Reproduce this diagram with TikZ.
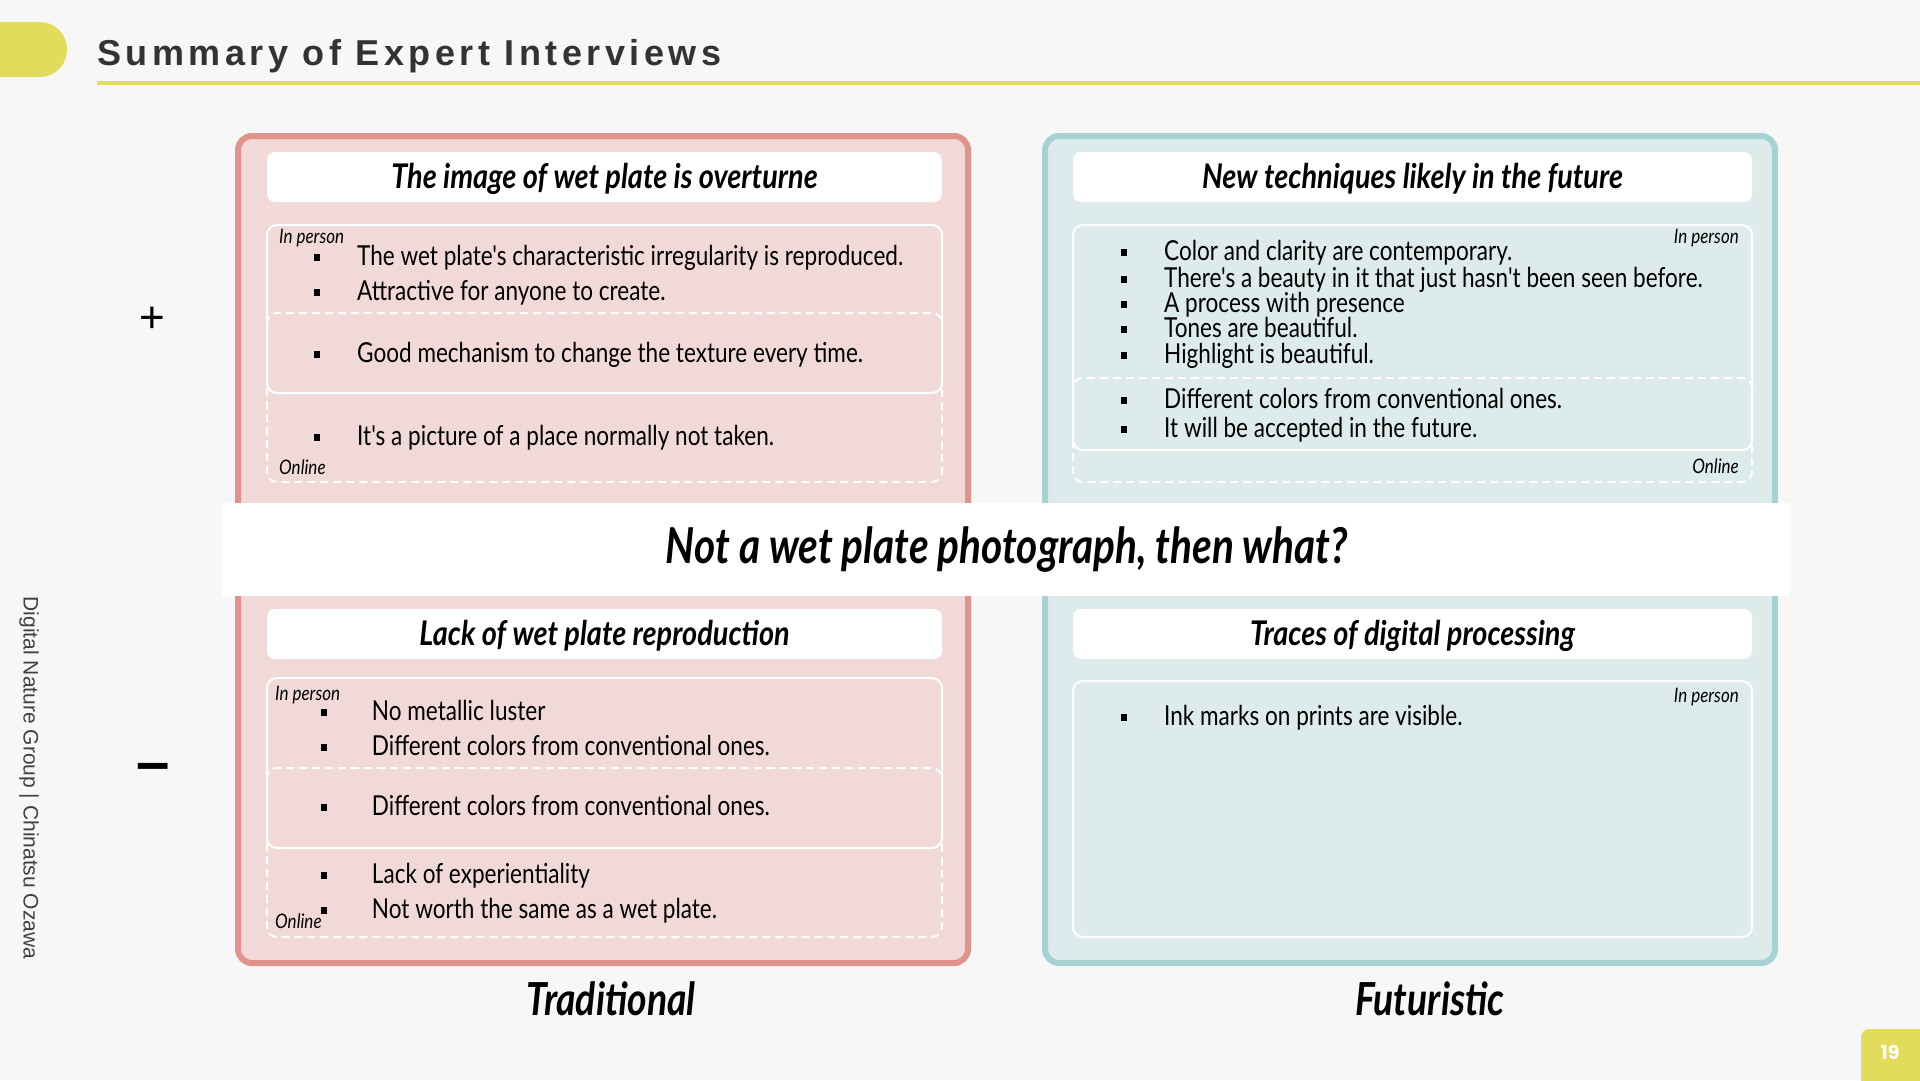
\documentclass[tikz,border=0pt]{standalone}
\usepackage{fontspec}
\setmainfont{Lato}
\usepackage{xcolor}
\usepackage{tikz}
\usetikzlibrary{positioning}

\newfontfamily\condfont[FakeStretch=0.82]{Lato}
\newfontfamily\headcond[FakeStretch=0.85]{Lato}
\newfontfamily\headfont[LetterSpace=12.5]{Liberation Sans}
\newfontfamily\plainsans{Liberation Sans}
\newfontfamily\numfont{Poppins}

\definecolor{bgcol}{HTML}{F7F7F7}
\definecolor{accent}{HTML}{E2DB5B}
\definecolor{titlecol}{HTML}{333333}
\definecolor{tradline}{HTML}{E0938B}
\definecolor{tradfill}{HTML}{F0D9D6}
\definecolor{futline}{HTML}{A7D1D2}
\definecolor{futfill}{HTML}{DDEBEB}

\tikzset{
  panelbox/.style={line width=6pt, rounded corners=14pt},
  headbox/.style={fill=white, rounded corners=8pt, inner sep=0pt, text height=26pt, text depth=3pt},
  inbox/.style={draw=white, line width=2pt, rounded corners=10pt},
  onbox/.style={draw=white, line width=2pt, dash pattern=on 8pt off 5pt, rounded corners=10pt},
  headtxt/.style={font=\headcond\bfseries\itshape\fontsize{34}{38}\selectfont},
  itemtxt/.style={anchor=base west, inner sep=0pt, font=\condfont\fontsize{27.5}{30}\selectfont},
  tagtxt/.style={inner sep=0pt, font=\headcond\itshape\fontsize{20}{22}\selectfont},
  axistxt/.style={font=\condfont\bfseries\itshape\fontsize{45.5}{50}\selectfont},
}
\newcommand\itm[1][43pt]{\makebox[#1][l]{\rule[4pt]{6pt}{7pt}}}

\begin{document}
\begin{tikzpicture}[x=1pt, y=-1pt]

% Page
\useasboundingbox (0,0) rectangle (1920,1080);
\fill[bgcol] (0,0) rectangle (1920,1080);

% Title bar
\fill[accent, rounded corners=27pt] (-40,22) rectangle (67,77);
\node[anchor=base west, inner sep=0pt, text=titlecol,
      font=\headfont\bfseries\fontsize{36}{40}\selectfont] (title) at (97,65) {Summary of Expert Interviews};
\draw[accent, line width=4pt] (97,82.5) -- (1920,82.5);

% Credit and page number
\node[rotate=-90, text=black!75, font=\plainsans\fontsize{21}{24}\selectfont] (credit) at (29,778)
    {Digital Nature Group | Chinatsu Ozawa};
\fill[accent, rounded corners=8pt] (1861,1029) rectangle (1950,1110);
\node[text=white, font=\numfont\bfseries\fontsize{19}{22}\selectfont] (pageno) at (1890,1052) {19};

% Panels
\draw[panelbox, draw=tradline, fill=tradfill] (238,136) rectangle (968,963);
\draw[panelbox, draw=futline, fill=futfill] (1045,136) rectangle (1775,963);

% Headers
\node[headbox, minimum width=675pt, minimum height=50pt, headtxt] (hdTradPos) at (604.5,177)
    {The image of wet plate is overturne};
\node[headbox, minimum width=679pt, minimum height=50pt, headtxt] (hdFutPos) at (1412.5,177)
    {New techniques likely in the future};
\node[headbox, minimum width=675pt, minimum height=50pt, headtxt] (hdTradNeg) at (604.5,634)
    {Lack of wet plate reproduction};
\node[headbox, minimum width=679pt, minimum height=50pt, headtxt] (hdFutNeg) at (1412.5,634)
    {Traces of digital processing};

% In person / online boxes
\draw[inbox] (267,225) rectangle (942,393);
\draw[onbox] (267,313) rectangle (942,482);
\draw[inbox] (267,678) rectangle (942,848);
\draw[onbox] (267,768) rectangle (942,937);
\draw[inbox] (1073,225) rectangle (1752,450);
\draw[onbox] (1073,378) rectangle (1752,482);
\draw[inbox] (1073,681) rectangle (1752,937);

% Traditional, positive
\node[tagtxt, anchor=west] (tpIn) at (279,238) {In person};
\node[itemtxt] (tp1) at (314,265) {\itm The wet plate's characteristic irregularity is reproduced.};
\node[itemtxt] (tp2) at (314,300) {\itm Attractive for anyone to create.};
\node[itemtxt] (tp3) at (314,362) {\itm Good mechanism to change the texture every time.};
\node[itemtxt] (tp4) at (314,445) {\itm It's a picture of a place normally not taken.};
\node[tagtxt, anchor=west] (tpOn) at (279,467) {Online};

% Futuristic, positive
\node[tagtxt, anchor=east] (fpIn) at (1739,238) {In person};
\node[itemtxt] (fp1) at (1121,260) {\itm Color and clarity are contemporary.};
\node[itemtxt] (fp2) at (1121,287) {\itm There's a beauty in it that just hasn't been seen before.};
\node[itemtxt] (fp3) at (1121,312) {\itm A process with presence};
\node[itemtxt] (fp4) at (1121,337) {\itm Tones are beautiful.};
\node[itemtxt] (fp5) at (1121,363) {\itm Highlight is beautiful.};
\node[itemtxt] (fp6) at (1121,408) {\itm Different colors from conventional ones.};
\node[itemtxt] (fp7) at (1121,437) {\itm It will be accepted in the future.};
\node[tagtxt, anchor=east] (fpOn) at (1739,466) {Online};

% Traditional, negative
\node[tagtxt, anchor=west] (tnIn) at (275,695) {In person};
\node[itemtxt] (tn1) at (321,720) {\itm[45pt] No metallic luster};
\node[itemtxt] (tn2) at (321,755) {\itm[45pt] Different colors from conventional ones.};
\node[itemtxt] (tn3) at (321,815) {\itm[45pt] Different colors from conventional ones.};
\node[itemtxt] (tn4) at (321,883) {\itm[45pt] Lack of experientiality};
\node[itemtxt] (tn5) at (321,918) {\itm[45pt] Not worth the same as a wet plate.};
\node[tagtxt, anchor=west] (tnOn) at (275,921) {Online};

% Futuristic, negative
\node[tagtxt, anchor=east] (fnIn) at (1739,697) {In person};
\node[itemtxt] (fn1) at (1121,725) {\itm Ink marks on prints are visible.};

% Central question
\fill[white] (222,503) rectangle (1790,596);
\node[font=\condfont\bfseries\itshape\fontsize{49.5}{56}\selectfont] (question) at (1007,550)
    {Not a wet plate photograph, then what?};

% Axis labels
\node[font=\plainsans\fontsize{44}{48}\selectfont] (plus) at (152,320) {+};
\node[font=\plainsans\bfseries\fontsize{60}{64}\selectfont] (minus) at (153,773) {\symbol{"2013}};
\node[axistxt] (trad) at (611,999) {Traditional};
\node[axistxt] (fut) at (1430,999) {Futuristic};

\end{tikzpicture}
\end{document}
